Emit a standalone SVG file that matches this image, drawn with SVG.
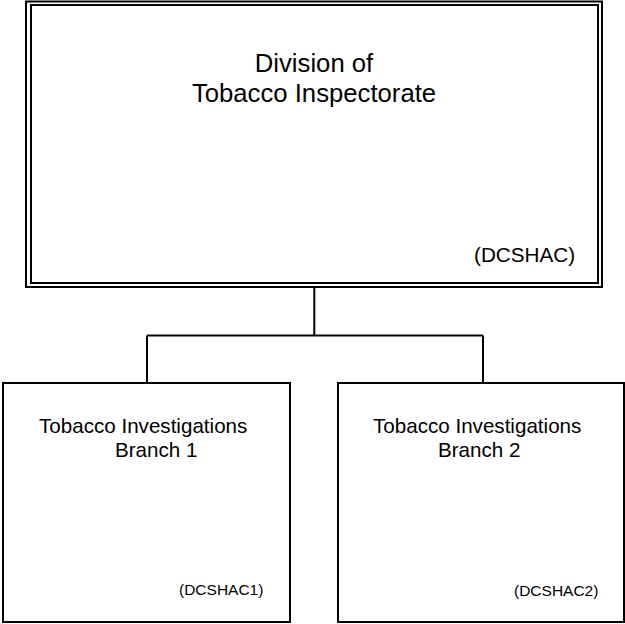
<svg xmlns="http://www.w3.org/2000/svg" width="625" height="624" viewBox="0 0 625 624">
<style>
.box{fill:#fff;stroke:#000;stroke-width:2}
.ln{fill:none;stroke:#000;stroke-width:2}
text{font-family:"Liberation Sans",Arial,sans-serif;fill:#000}
</style>
<rect width="625" height="624" fill="#fff"/>
<g id="connectors">
<path class="ln" d="M314.3,287 V335.5 M147,335.5 H483 M147,335.5 V383 M483,335.5 V383"/>
</g>
<g id="division">
<rect class="box" x="26" y="1.5" width="576" height="285.5"/>
<rect class="box" x="31" y="5" width="567" height="278"/>
<text x="314" y="72" font-size="25.7" text-anchor="middle">Division of</text>
<text x="314" y="102" font-size="25.7" text-anchor="middle">Tobacco Inspectorate</text>
<text x="474" y="262" font-size="20.7">(DCSHAC)</text>
</g>
<g id="branch1">
<rect class="box" x="3" y="383" width="287" height="239"/>
<text x="39" y="433" font-size="20.6">Tobacco Investigations</text>
<text x="115" y="457" font-size="20.6">Branch 1</text>
<text x="179" y="595" font-size="15.5">(DCSHAC1)</text>
</g>
<g id="branch2">
<rect class="box" x="338" y="383" width="286" height="239"/>
<text x="373" y="433" font-size="20.6">Tobacco Investigations</text>
<text x="438" y="457" font-size="20.6">Branch 2</text>
<text x="514" y="596" font-size="15.5">(DCSHAC2)</text>
</g>
</svg>
